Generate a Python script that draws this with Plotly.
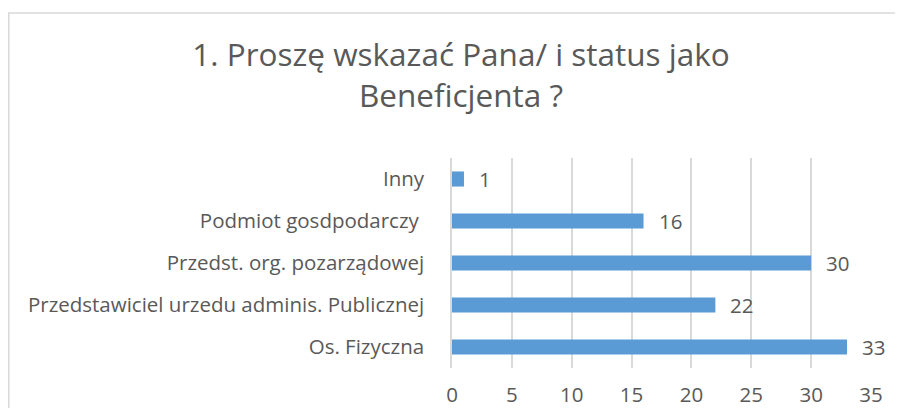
import plotly.graph_objects as go

categories = ["Os. Fizyczna", "Przedstawiciel urzedu adminis. Publicznej",
              "Przedst. org. pozarządowej", "Podmiot gosdpodarczy\u00a0", "Inny"]
values = [33, 22, 30, 16, 1]
x_ticks = [0, 5, 10, 15, 20, 25, 30, 35]

font_fam = "'Open Sans', sans-serif"
grey = '#595959'

# strona ma 8px marginesu body, więc figura jest o 8px mniejsza
W, H = 895, 400
L, R, T, B = 444, 32, 150, 40
pw, ph = W - L - R, H - T - B

fig = go.Figure()
fig.add_trace(go.Bar(
    y=categories, x=values, orientation='h',
    marker=dict(color='#5B9BD5', line=dict(width=0)),
    width=0.36, hoverinfo='skip'
))

# etykiety danych
for c, v in zip(categories, values):
    fig.add_annotation(x=v, y=c, text=str(v), showarrow=False,
                       xanchor='left', xshift=13,
                       font=dict(size=20.5, color=grey, family=font_fam))

# ramka wykresu
fig.add_shape(type='rect', xref='paper', yref='paper',
              x0=(0.8 - L) / pw, x1=(W + 10 - L) / pw,
              y0=(ph - (H + 20 - T)) / ph, y1=1 + (T - 5) / ph,
              line=dict(color='#d9d9d9', width=1.5), layer='below')

fig.update_layout(
    width=W, height=H,
    margin=dict(l=L, r=R, t=T, b=B),
    paper_bgcolor='white', plot_bgcolor='white',
    showlegend=False,
    title=dict(text="1. Proszę wskazać Pana/ i status jako<br>Beneficjenta ?",
               x=(461 - 8) / W, xanchor='center', y=1 - 58 / H, yanchor='top',
               font=dict(size=31.5, color=grey, family=font_fam)),
    xaxis=dict(range=[0, 35], tickvals=x_ticks, showgrid=True, gridcolor='#d9d9d9',
               gridwidth=1.5, zeroline=False, showline=False, fixedrange=True,
               ticklabelstandoff=12, automargin=False,
               tickfont=dict(size=20.5, color=grey, family=font_fam)),
    yaxis=dict(showgrid=False, showline=True, linecolor='#d9d9d9', linewidth=1.5,
               ticklabelstandoff=22, fixedrange=True, automargin=False,
               tickfont=dict(size=20.5, color=grey, family=font_fam)),
)

fig.write_html("out.html")
